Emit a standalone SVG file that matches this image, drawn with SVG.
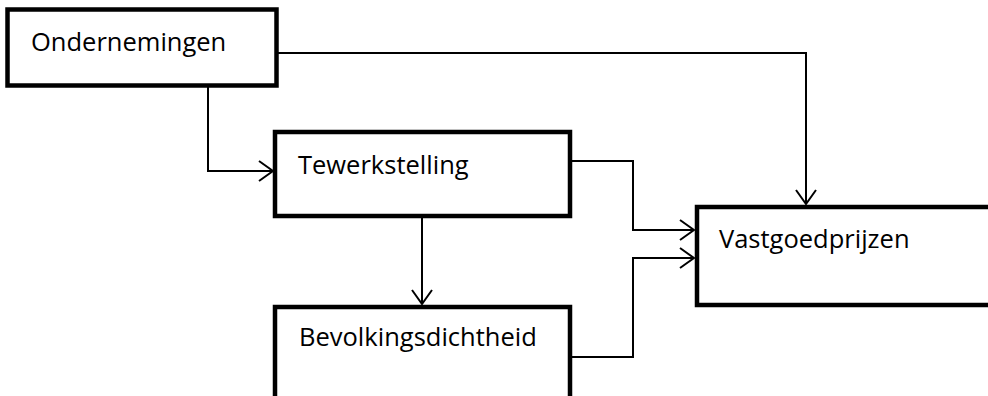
<svg xmlns="http://www.w3.org/2000/svg" width="988" height="396" viewBox="0 0 988 396">
  <style>
    .box { fill: #ffffff; stroke: #000000; stroke-width: 4.5; }
    .lbl { font-family: "Open Sans", "Liberation Sans", sans-serif; font-size: 25.5px; fill: #000000; }
    .wire { fill: none; stroke: #000000; stroke-width: 2; }
  </style>
  <defs>
    <marker id="open-arrow" viewBox="0 0 16 22" refX="15" refY="11" markerWidth="16" markerHeight="22" markerUnits="userSpaceOnUse" orient="auto">
      <path d="M1,1 L15,11 L1,21" fill="none" stroke="#000000" stroke-width="2"/>
    </marker>
  </defs>

  <g id="ondernemingen">
    <rect class="box" x="7.5" y="9.5" width="269" height="76"/>
    <text class="lbl" x="31" y="51">Ondernemingen</text>
  </g>

  <g id="tewerkstelling">
    <rect class="box" x="275" y="132" width="295" height="84"/>
    <text class="lbl" x="298" y="174">Tewerkstelling</text>
  </g>

  <g id="bevolkingsdichtheid">
    <rect class="box" x="275" y="307" width="295" height="110"/>
    <text class="lbl" x="299" y="346">Bevolkingsdichtheid</text>
  </g>

  <g id="vastgoedprijzen">
    <rect class="box" x="697" y="207" width="320" height="98"/>
    <text class="lbl" x="719" y="248">Vastgoedprijzen</text>
  </g>

  <g id="connectors">
    <polyline class="wire" points="208,87 208,171 273,171" marker-end="url(#open-arrow)"/>
    <polyline class="wire" points="278,53 806,53 806,204" marker-end="url(#open-arrow)"/>
    <polyline class="wire" points="422,218 422,304" marker-end="url(#open-arrow)"/>
    <polyline class="wire" points="572,161 633,161 633,230 694,230" marker-end="url(#open-arrow)"/>
    <polyline class="wire" points="572,357 633,357 633,258 694,258" marker-end="url(#open-arrow)"/>
  </g>
</svg>
